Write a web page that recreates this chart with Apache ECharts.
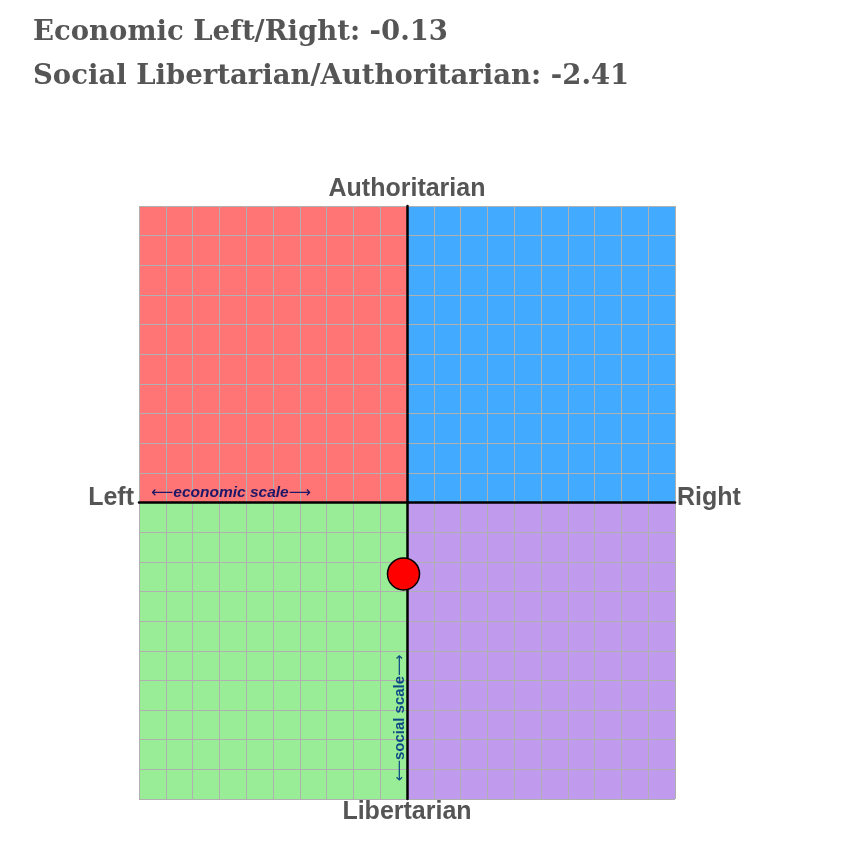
<!DOCTYPE html>
<html>
<head>
<meta charset="utf-8">
<script src="https://cdn.jsdelivr.net/npm/echarts@6/dist/echarts.min.js"></script>
<style>
  html, body { margin: 0; padding: 0; background: #fff; }
  #chart { width: 844px; height: 841px; }
</style>
</head>
<body>
<div id="chart"></div>
<script>
// scores
const economic = [-0.13];
const social = [-2.41];
// quadrant bounds [x1, y1, x2, y2]
const quadrants = [
  [-10, 0, 0, 10],   // auth left
  [0, 0, 10, 10],    // auth right
  [-10, -10, 0, 0],  // lib left
  [0, -10, 10, 0]    // lib right
];
const quadColors = ["#ff7575", "#42aaff", "#9aed97", "#c09aec"];
const axisMin = -10;
const axisMax = 10;

const chart = echarts.init(document.getElementById("chart"));

const gridBox = { left: 139, top: 206, width: 536, height: 593 };

const axisCommon = {
  type: "value",
  min: axisMin,
  max: axisMax,
  interval: 1,
  z: 5,
  axisLabel: { show: false },
  axisTick: { show: false },
  axisLine: { onZero: true, lineStyle: { color: "#000", width: 2.5 } },
  splitLine: { show: true, lineStyle: { color: "#b0b0b0", width: 1 } }
};

const titleFont = "bold 27.5px 'DejaVu Serif'";
const labelFont = "bold 25px 'Liberation Sans'";

// rich text so the arrows come out long like in the original
function scaleLabel(word, size, style, color) {
  return {
    text: "{a|\u27f5}{t|" + word + "}{a|\u27f6}",
    rich: {
      a: { font: size + "px 'DejaVu Sans'", fill: color },
      t: { font: style + " bold " + size + "px 'Liberation Sans'", fill: color }
    },
    align: "center",
    verticalAlign: "middle"
  };
}

chart.setOption({
  animation: false,
  grid: gridBox,
  xAxis: axisCommon,
  yAxis: axisCommon,
  series: [
    {
      type: "scatter",
      z: 1,
      data: [],
      markArea: {
        silent: true,
        data: quadrants.map((q, i) => [
          { coord: [q[0], q[1]], itemStyle: { color: quadColors[i], opacity: 1 } },
          { coord: [q[2], q[3]] }
        ])
      }
    },
    {
      type: "scatter",
      z: 10,
      symbolSize: 32,
      itemStyle: { color: "#ff0000", borderColor: "#000", borderWidth: 1.5, opacity: 1 },
      data: economic.map((v, i) => [v, social[i]])
    }
  ],
  graphic: [
    { type: "text", left: 33, top: 19, style: { text: "Economic Left/Right: " + economic[0].toFixed(2), font: titleFont, fill: "#555" } },
    { type: "text", left: 33, top: 63, style: { text: "Social Libertarian/Authoritarian: " + social[0].toFixed(2), font: titleFont, fill: "#555" } },
    { type: "text", x: 407, y: 189, style: { text: "Authoritarian", font: labelFont, fill: "#555", align: "center", verticalAlign: "middle" } },
    { type: "text", x: 407, y: 812, style: { text: "Libertarian", font: labelFont, fill: "#555", align: "center", verticalAlign: "middle" } },
    { type: "text", x: 134, y: 498, style: { text: "Left", font: labelFont, fill: "#555", align: "right", verticalAlign: "middle" } },
    { type: "text", x: 677, y: 498, style: { text: "Right", font: labelFont, fill: "#555", align: "left", verticalAlign: "middle" } },
    { type: "text", x: 231, y: 493, z: 20, style: scaleLabel("economic scale", 15.5, "italic", "#1c1766") },
    { type: "text", x: 400, y: 718, z: 20, rotation: Math.PI / 2, style: scaleLabel("social scale", 15, "normal", "#0b4a85") }
  ]
});

window.onresize = function () {
  chart.resize();
};
</script>
</body>
</html>
